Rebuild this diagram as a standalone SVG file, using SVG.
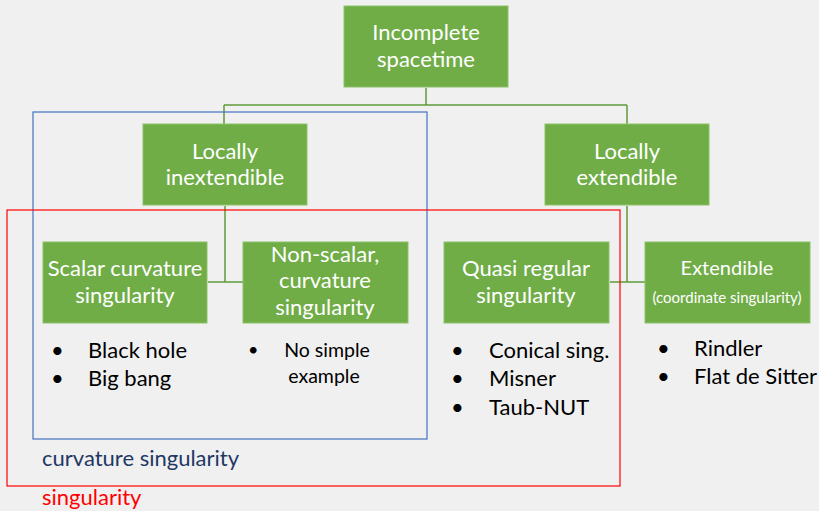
<svg xmlns="http://www.w3.org/2000/svg" width="819" height="511" viewBox="0 0 819 511">
<style>
.box{fill:#70ad47;stroke:#8cc167;stroke-width:1}
.bt{font-family:Lato,"Open Sans",sans-serif;fill:#ffffff;text-anchor:middle;font-size:22px}
.lt{font-family:Lato,"Open Sans",sans-serif;fill:#000000;font-size:22px}
.con{stroke:#5f9a3a;stroke-width:1.5;fill:none}
</style>
<rect width="819" height="511" fill="#f0f0f0"/>
<g id="connectors">
<path class="con" d="M426,88 V105 M224,105 H627 M224,105 V124 M627,105 V124"/>
<path class="con" d="M225,206 V282 M208,282 H243"/>
<path class="con" d="M627,206 V282 M610,282 H645"/>
</g>
<g id="incomplete">
<rect class="box" x="344" y="6" width="164" height="81"/>
<text class="bt" x="426" y="40">Incomplete</text>
<text class="bt" x="426" y="67">spacetime</text>
</g>
<g id="loc-inext">
<rect class="box" x="143" y="124" width="164" height="81"/>
<text class="bt" x="225" y="159">Locally</text>
<text class="bt" x="225" y="185">inextendible</text>
</g>
<g id="loc-ext">
<rect class="box" x="545" y="124" width="164" height="81"/>
<text class="bt" x="627" y="159">Locally</text>
<text class="bt" x="627" y="185">extendible</text>
</g>
<g id="scalar">
<rect class="box" x="43" y="242" width="164" height="81"/>
<text class="bt" x="125" y="276">Scalar curvature</text>
<text class="bt" x="125" y="303">singularity</text>
</g>
<g id="nonscalar">
<rect class="box" x="243" y="242" width="165" height="81"/>
<text class="bt" x="325" y="262">Non-scalar,</text>
<text class="bt" x="325" y="288">curvature</text>
<text class="bt" x="325" y="315">singularity</text>
</g>
<g id="quasi">
<rect class="box" x="444" y="242" width="165" height="81"/>
<text class="bt" x="526" y="276">Quasi regular</text>
<text class="bt" x="526" y="303">singularity</text>
</g>
<g id="extendible">
<rect class="box" x="645" y="242" width="165" height="81"/>
<text class="bt" x="727" y="275" style="font-size:20px">Extendible</text>
<text class="bt" x="727" y="303" style="font-size:15px">(coordinate singularity)</text>
</g>
<g id="list-scalar">
<text class="lt" x="51" y="358">•</text><text class="lt" x="88" y="358">Black hole</text>
<text class="lt" x="51" y="386">•</text><text class="lt" x="88" y="386">Big bang</text>
</g>
<g id="list-nonscalar">
<text class="lt" x="248" y="356" style="font-size:18px">•</text>
<text class="lt" x="327" y="357" style="font-size:19.5px;text-anchor:middle">No simple</text>
<text class="lt" x="324" y="383" style="font-size:19.5px;text-anchor:middle">example</text>
</g>
<g id="list-quasi">
<text class="lt" x="451" y="358">•</text><text class="lt" x="489" y="358">Conical sing.</text>
<text class="lt" x="451" y="386">•</text><text class="lt" x="489" y="386">Misner</text>
<text class="lt" x="451" y="415">•</text><text class="lt" x="489" y="415">Taub-NUT</text>
</g>
<g id="list-ext">
<text class="lt" x="657" y="356">•</text><text class="lt" x="694" y="356">Rindler</text>
<text class="lt" x="657" y="384">•</text><text class="lt" x="694" y="384">Flat de Sitter</text>
</g>
<g id="region-curvature">
<rect x="33" y="112" width="394" height="327" fill="none" stroke="#4472c4" stroke-width="1.2"/>
<text x="42" y="466" font-family="Lato,'Open Sans',sans-serif" font-size="22" fill="#1f3864">curvature singularity</text>
</g>
<g id="region-singularity">
<rect x="7" y="210" width="613" height="276" fill="none" stroke="#ff0000" stroke-width="1.2"/>
<text x="42" y="505" font-family="Lato,'Open Sans',sans-serif" font-size="22" fill="#ff0000">singularity</text>
</g>
</svg>
